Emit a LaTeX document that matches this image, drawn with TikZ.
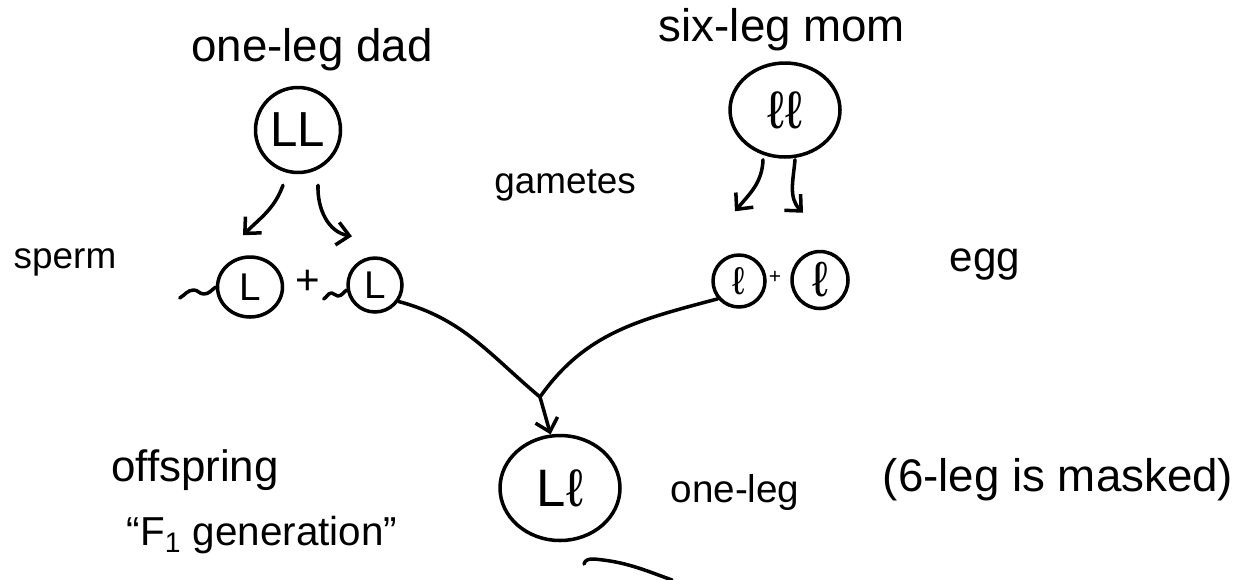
\documentclass[tikz,border=0pt]{standalone}
\usepackage{fontspec}
\setmainfont{Liberation Sans}
\usetikzlibrary{shapes,arrows,arrows.meta,positioning,calc}
\def\handfont#1{\fontsize{#1}{#1}\selectfont}

\begin{document}
\begin{tikzpicture}[
    x=0.02cm, y=0.02cm,
    line width=2pt, line cap=round, line join=round,
    >={Straight Barb[length=7pt,width=13pt]},
    word/.style={font=\handfont{24}, inner sep=0pt},
    cell/.style={draw, ellipse, inner sep=0pt},
  ]

\useasboundingbox (0,0) rectangle (1239,-579);

\node[word, font=\handfont{26}] (dadname) at (312,-50) {one-leg dad};
\node[cell, minimum width=1.7cm, minimum height=1.7cm, font=\handfont{28}] (dad) at (298,-130) {LL};

\node[word, font=\handfont{26}] (momname) at (782,-30) {six-leg mom};
\node[cell, minimum width=2.2cm, minimum height=1.88cm, font=\handfont{30}] (mom) at (785,-110) {ℓℓ};

\node[word, font=\handfont{21}] (gametes) at (565,-185) {gametes};

\node[word, font=\handfont{21}] (spermname) at (65,-262) {sperm};
\node[cell, minimum width=1.3cm, minimum height=1.2cm, font=\handfont{22}] (s1) at (250,-287) {L};
\node[word] (splus) at (308,-282) {+};
\node[cell, minimum size=1.08cm, font=\handfont{22}] (s2) at (375,-285) {L};

\node[word] (eggname) at (985,-265) {egg};
\node[cell, minimum size=1.04cm, font=\handfont{22}] (e1) at (739,-281) {ℓ};
\node[word, font=\handfont{12}] (eplus) at (775,-277) {+};
\node[cell, minimum width=1.12cm, minimum height=1.14cm, font=\handfont{28}] (e2) at (820,-280) {ℓ};

\node[cell, minimum width=2.4cm, minimum height=2.1cm, font=\handfont{30}] (off) at (560,-488) {Lℓ};
\node[word, font=\handfont{22}] (offname) at (735,-492) {one-leg};
\node[word, font=\handfont{26}] (mask) at (1058,-480) {(6-leg is masked)};
\node[word, font=\handfont{25}] (offlabel) at (195,-470) {offspring};
\node[word, font=\handfont{23}] (gen) at (262,-535) {``F\textsubscript{1} generation''};

\coordinate (dadL) at ($ (dad.south) + (-15,-11) $);
\coordinate (dadR) at ($ (dad.south) + (20,-11) $);
\coordinate (s1in) at ($ (s1.north) + (-7,20) $);
\coordinate (s2in) at ($ (s2.north) + (-23,20) $);
\coordinate (momL) at ($ (mom.south) + (-22,-1) $);
\coordinate (momR) at ($ (mom.south) + (10,-1) $);
\coordinate (e1in) at ($ (e1.north) + (-4,42) $);
\coordinate (e2in) at ($ (e2.north) + (-17,37) $);
\coordinate (merge) at (540,-397);

\draw[->] (dadL) to[out=-110,in=45] (s1in);
\draw[->] (dadR) to[out=-92,in=170] (s2in);
\draw[->] (momL) to[out=-92,in=50] (e1in);
\draw[->] (momR) to[out=-95,in=135] (e2in);

\draw (s1.west) to[out=215,in=0] ++(-12,-7) to[out=180,in=0] ++(-10,4) to[out=180,in=30] ++(-14,-8);
\draw (s2.190) to[out=215,in=0] ++(-9,-6) to[out=180,in=0] ++(-6,3) to[out=180,in=30] ++(-8,-6);

\draw (s2.-35) to[out=-15,in=140] (merge);
\draw (e1.220) to[out=195,in=55] (merge);
\draw[->] (merge) -- (off.100);

\coordinate (stubA) at (584,-564);
\coordinate (stubB) at (672,-580);
\draw (stubA) to[out=80,in=175] ++(10,5) to[out=-5,in=160] (stubB);

\end{tikzpicture}
\end{document}
